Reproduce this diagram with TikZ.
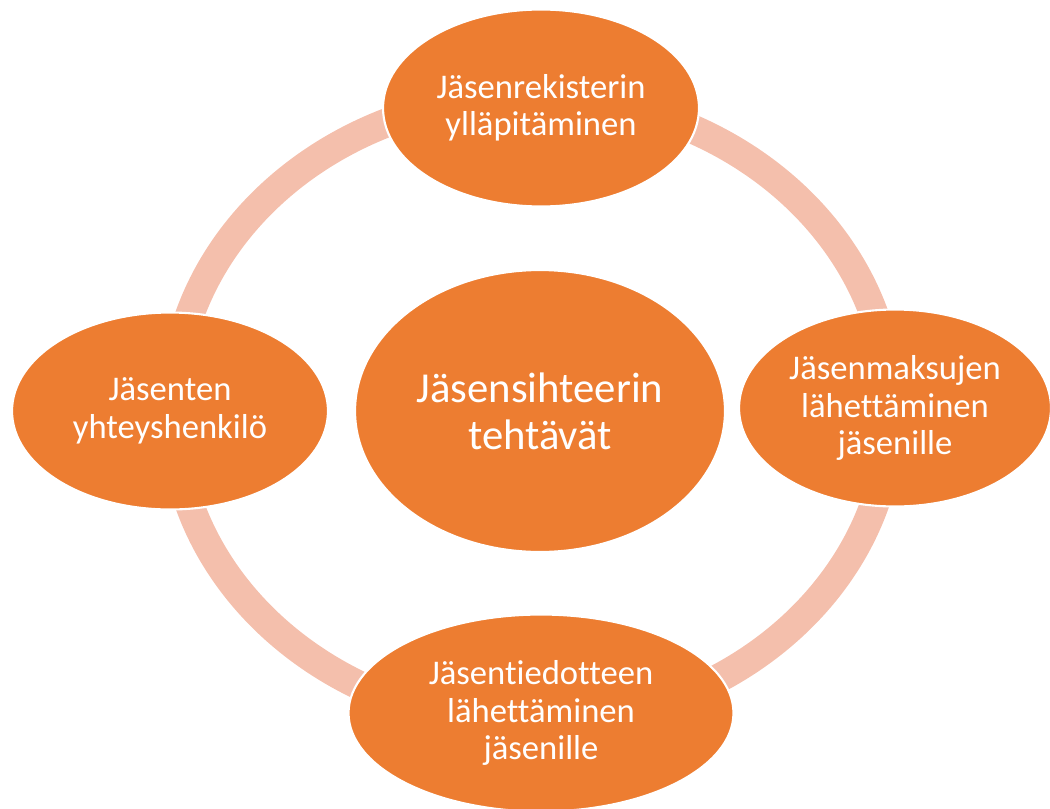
\documentclass[tikz,border=0pt]{standalone}
\usepackage{fontspec}
\setmainfont[Ligatures=NoCommon]{Carlito}
\usepackage{tikz}
\usetikzlibrary{shapes.geometric}

\definecolor{tehtava}{HTML}{ED7D31}
\definecolor{kehä}{HTML}{F4BFAC}

\tikzset{
    tehtava/.style={ellipse, fill=tehtava, draw=white, line width=1.2pt, inner sep=0pt,
        text=white, align=center, font=\fontsize{19.7}{21.3}\selectfont,
        minimum width=6.32cm, minimum height=3.94cm},
    keskus/.style={tehtava, minimum width=7.4cm, minimum height=5.64cm,
        font=\fontsize{24.3}{26.6}\selectfont},
    kehaviiva/.style={draw=kehä, line width=0.58cm}
}

\begin{document}
\begin{tikzpicture}[x=0.02cm, y=-0.02cm]

    \useasboundingbox (0,0) rectangle (1050,808);

    %Ring
    \draw[kehaviiva] (532,410) ellipse [x radius=359, y radius=314];

    %Center
    \node[keskus] (sihteeri) at (540,411) {Jäsensihteerin\\tehtävät};

    %Tasks around the ring
    \node[tehtava] (rekisteri) at (541,108) {Jäsenrekisterin\\ylläpitäminen};
    \node[tehtava, minimum width=6.24cm] (maksut) at (895,408) {Jäsenmaksujen\\lähettäminen\\jäsenille};
    \node[tehtava, minimum width=7.7cm] (tiedote) at (541,713) {Jäsentiedotteen\\lähettäminen\\jäsenille};
    \node[tehtava] (yhteys) at (170,411) {Jäsenten\\yhteyshenkilö};

\end{tikzpicture}
\end{document}
